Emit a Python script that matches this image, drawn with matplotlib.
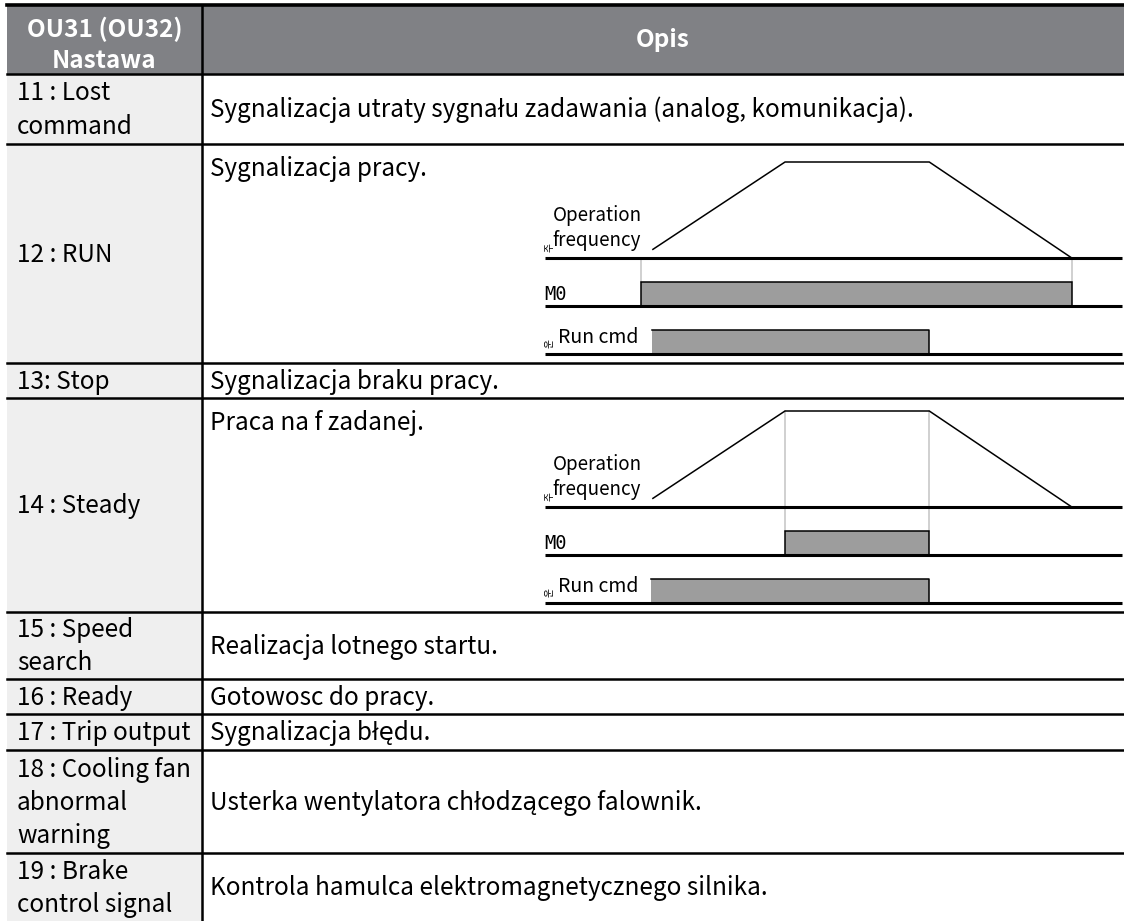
import numpy as np
import matplotlib
matplotlib.use('Agg')
import matplotlib.pyplot as plt
from matplotlib.patches import Rectangle

plt.rcParams['font.family'] = ['Noto Sans CJK KR', 'DejaVu Sans']

# table content
header_left = ['OU31 (OU32)', 'Nastawa']
header_right = 'Opis'
settings = [['11 : Lost', 'command'],
            ['12 : RUN'],
            ['13: Stop'],
            ['14 : Steady'],
            ['15 : Speed', 'search'],
            ['16 : Ready'],
            ['17 : Trip output'],
            ['18 : Cooling fan', 'abnormal', 'warning'],
            ['19 : Brake', 'control signal']]
descriptions = ['Sygnalizacja utraty sygnału zadawania (analog, komunikacja).',
                'Sygnalizacja pracy.',
                'Sygnalizacja braku pracy.',
                'Praca na f zadanej.',
                'Realizacja lotnego startu.',
                'Gotowosc do pracy.',
                'Sygnalizacja błędu.',
                'Usterka wentylatora chłodzącego falownik.',
                'Kontrola hamulca elektromagnetycznego silnika.']

# timing diagrams (time 0..100 across the diagram width)
freq_t = [18.7, 41.6, 66.6, 91.3]
freq_v = [0.09, 1.0, 1.0, 0.0]
run_mo = (16.6, 91.3)
run_cmd = (18.5, 66.6)
steady_mo = (41.6, 66.6)
steady_cmd = (18.3, 66.6)

# layout (pixels)
W, H = 1124, 921
x_left, x_div, x_right = 7, 202, 1124
y_top, y_head = 5, 74
row_edges = [74, 144, 363, 398, 612, 679, 714, 750, 853, 921]
top_aligned = [False, True, False, True, False, False, False, False, False]
line_h = 33
fs = 17.5
head_gray = '#808185'
col_gray = '#efefef'

fig = plt.figure(figsize=(W / 100, H / 100), dpi=100)
ax = fig.add_axes([0, 0, 1, 1])
ax.set_xlim(0, W)
ax.set_ylim(H, 0)
ax.axis('off')

# backgrounds
ax.add_patch(Rectangle((x_left, y_top), x_right - x_left, y_head - y_top,
                       facecolor=head_gray, edgecolor='none', zorder=0))
ax.add_patch(Rectangle((x_left, y_head), x_div - x_left, H - y_head,
                       facecolor=col_gray, edgecolor='none', zorder=0))

# grid lines
ax.plot([x_left, x_right], [y_top, y_top], color='black', lw=2.6, zorder=5)
for y in row_edges[:-1]:
    ax.plot([x_left, x_right], [y, y], color='black', lw=1.8, zorder=5)
ax.plot([x_div, x_div], [y_top, H], color='black', lw=1.8, zorder=5)

# header text
for i, s in enumerate(header_left):
    ax.text((x_left + x_div) / 2, 29 + i * 32, s, color='white', fontsize=fs,
            fontweight='bold', ha='center', va='center')
ax.text((x_div + x_right) / 2, 40, header_right, color='white', fontsize=fs,
        fontweight='bold', ha='center', va='center')

# rows
for i in range(len(settings)):
    y0, y1 = row_edges[i], row_edges[i + 1]
    yc = (y0 + y1) / 2
    lines = settings[i]
    n = len(lines)
    for k, s in enumerate(lines):
        yy = yc + (k - (n - 1) / 2) * line_h
        ax.text(17, yy + 8, s, fontsize=fs, ha='left', va='baseline')
    yd = y0 + 24 if top_aligned[i] else yc
    ax.text(210, yd + 8, descriptions[i], fontsize=fs, ha='left', va='baseline')


def X(t):
    return 545 + np.asarray(t) * 5.77


def diagram(yb, mo, cmd):
    amp = 96
    # guide lines at the output edges
    for t in mo:
        v = np.interp(t, freq_t, freq_v, left=0.0)
        ax.plot([X(t), X(t)], [yb - amp * v, yb + 24], color='#c4c4c4',
                lw=1.1, zorder=1)
    # baselines
    for dy in (0, 48, 96):
        ax.plot([545, 1122], [yb + dy, yb + dy], color='black', lw=2.2,
                zorder=3, solid_capstyle='butt')
    # operation frequency
    ax.plot(X(freq_t), yb - amp * np.array(freq_v), color='black', lw=1.1,
            zorder=3)
    # output MO
    ax.add_patch(Rectangle((X(mo[0]), yb + 24), X(mo[1]) - X(mo[0]), 24,
                           facecolor='#9d9d9d', edgecolor='black', lw=1.1,
                           zorder=2))
    # run command
    ax.add_patch(Rectangle((X(cmd[0]), yb + 72), X(cmd[1]) - X(cmd[0]), 24,
                           facecolor='#9d9d9d', edgecolor='none', zorder=2))
    ax.plot([X(cmd[0]), X(cmd[1]), X(cmd[1])], [yb + 72, yb + 72, yb + 96],
            color='black', lw=1.1, zorder=2)
    # labels
    ax.text(597, yb - 43, 'Operation', fontsize=13.5, ha='center', va='center')
    ax.text(597, yb - 18, 'frequency', fontsize=13.5, ha='center', va='center')
    ax.text(544, yb + 36, 'M0', fontsize=13.5, family='DejaVu Sans Mono',
            ha='left', va='center')
    ax.text(558, yb + 79, 'Run cmd', fontsize=14, ha='left', va='center')
    ax.text(550, yb - 11, '주', fontsize=7, rotation=90, ha='center',
            va='center')
    ax.text(550, yb + 85, '운', fontsize=7, rotation=90, ha='center',
            va='center')


diagram(258, run_mo, run_cmd)
diagram(507, steady_mo, steady_cmd)

fig.savefig('out.png', dpi=100)
